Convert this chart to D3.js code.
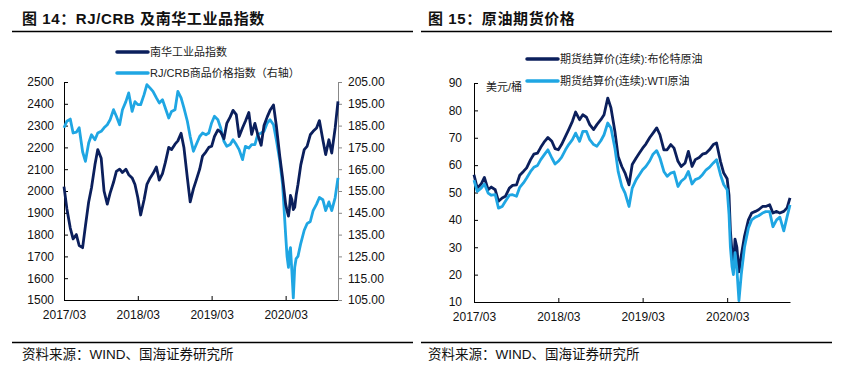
<!DOCTYPE html>
<html><head><meta charset="utf-8">
<script src="https://cdn.jsdelivr.net/npm/d3@7"></script>
<style>
body{margin:0;background:#fff;}
svg{display:block;}
text{font-family:"Liberation Sans",Arial,"Noto Sans CJK SC",sans-serif;}
.cjk{font-family:"Liberation Sans","Noto Sans CJK SC",sans-serif;}
</style></head><body>
<svg id="c" width="844" height="371"></svg>
<script>
// ---------- Left chart data ----------
const leftDates = [
"2017-03-01","2017-03-15","2017-04-01","2017-04-15","2017-05-01","2017-05-15","2017-06-01","2017-06-15","2017-07-01","2017-07-15",
"2017-08-01","2017-08-15","2017-09-01","2017-09-15","2017-10-01","2017-10-15","2017-11-01","2017-11-15","2017-12-01","2017-12-15",
"2018-01-01","2018-01-15","2018-02-01","2018-02-15","2018-03-01","2018-03-15","2018-04-01","2018-04-15","2018-05-01","2018-05-15",
"2018-06-01","2018-06-15","2018-07-01","2018-07-15","2018-08-01","2018-08-15","2018-09-01","2018-09-15","2018-10-01","2018-10-15",
"2018-11-01","2018-11-15","2018-12-01","2018-12-15",
"2019-01-01","2019-01-15","2019-02-01","2019-02-15","2019-03-01","2019-03-15","2019-04-01","2019-04-15","2019-05-01","2019-05-15",
"2019-06-01","2019-06-15","2019-07-01","2019-07-15","2019-08-01","2019-08-15","2019-09-01","2019-09-15","2019-10-01","2019-10-15",
"2019-11-01","2019-11-15","2019-12-01","2019-12-15",
"2020-01-01","2020-01-15","2020-02-01","2020-02-15",
"2020-03-01","2020-03-08","2020-03-15","2020-03-20","2020-03-25","2020-04-01","2020-04-08","2020-04-15","2020-04-22","2020-05-01",
"2020-05-15","2020-06-01","2020-06-15","2020-07-01","2020-07-15","2020-08-01","2020-08-15","2020-09-01","2020-09-15","2020-10-01",
"2020-10-15","2020-11-01","2020-11-15"];
const nanhua = [
2020,1920,1830,1780,1800,1750,1740,1840,1950,2015,2120,2190,2150,2000,1940,1990,2040,2090,2100,2085,
2100,2075,2060,2030,1970,1890,1960,2030,2060,2080,2110,2050,2080,2130,2200,2190,2215,2230,2265,2200,2060,1950,2010,2050,
2100,2160,2180,2200,2205,2250,2280,2270,2240,2310,2340,2370,2350,2250,2290,2320,2360,2260,2310,2260,2210,2300,2340,2370,
2395,2300,2160,2060,
1940,1910,1885,1920,1980,1960,1915,1925,1980,2030,
2120,2190,2205,2258,2274,2289,2323,2235,2167,2235,2174,2289,2411];
const rjcrb = [
184,187,188,181.6,182,184,173,168.6,177,180.8,178.5,181.6,182.4,184,185.4,187.7,192.3,189.3,185.4,192.3,
196,200,191.5,196,194.6,194.6,199.2,203.8,202.2,200.7,197.7,195.4,196.9,193.1,188.5,191.5,192.3,200.7,197.7,193.1,187,180,173.2,176.3,
180,181.6,180.8,181.6,186.2,189.3,187.7,183.9,177.8,175.5,176.3,178.5,176.3,174,169.4,175.5,174.7,176.3,176.3,180.8,181.6,182.4,186.2,187.7,
185.4,178.5,169,158,
135,125,120,127,129,118,106,120,124,125,
131,137,140,141,146,149,152,151,146,150,146,152,161];
const leftTicks = [1500,1600,1700,1800,1900,2000,2100,2200,2300,2400,2500];
const rightTicks = [105,115,125,135,145,155,165,175,185,195,205];

// ---------- Right chart data ----------
const oilDates = [
"2017-03-01","2017-03-15","2017-04-01","2017-04-15","2017-05-01","2017-05-15","2017-06-01","2017-06-15","2017-07-01","2017-07-15",
"2017-08-01","2017-08-15","2017-09-01","2017-09-15","2017-10-01","2017-10-15","2017-11-01","2017-11-15","2017-12-01","2017-12-15",
"2018-01-01","2018-01-15","2018-02-01","2018-02-15","2018-03-01","2018-03-15","2018-04-01","2018-04-15","2018-05-01","2018-05-15",
"2018-06-01","2018-06-15","2018-07-01","2018-07-15","2018-08-01","2018-08-15","2018-09-01","2018-09-15","2018-10-01","2018-10-15",
"2018-11-01","2018-11-15","2018-12-01","2018-12-15",
"2019-01-01","2019-01-15","2019-02-01","2019-02-15","2019-03-01","2019-03-15","2019-04-01","2019-04-15","2019-05-01","2019-05-15",
"2019-06-01","2019-06-15","2019-07-01","2019-07-15","2019-08-01","2019-08-15","2019-09-01","2019-09-15","2019-10-01","2019-10-15",
"2019-11-01","2019-11-15","2019-12-01","2019-12-15",
"2020-01-01","2020-01-15","2020-02-01","2020-02-15","2020-03-01",
"2020-03-09","2020-03-15","2020-03-22","2020-03-28","2020-04-04","2020-04-12","2020-04-21","2020-05-01","2020-05-15",
"2020-06-01","2020-06-15","2020-07-01","2020-07-15","2020-08-01","2020-08-15","2020-09-01","2020-09-15","2020-10-01","2020-10-15",
"2020-11-01","2020-11-15","2020-11-28"];
const brent = [
56.5,51.6,53.1,55.5,51,52,51,46.8,48,48.6,51.6,52.6,52.8,56.3,57.7,59,62,64,64.4,66.5,
68.7,70.1,68.7,66,65.6,67.5,70.5,73,76,79.4,76.6,78.4,77.5,74.8,73,74.8,76.6,78.4,84.5,80.9,72.3,63.2,59.5,57.1,
52.8,60.2,62.6,64.4,66.2,67.7,70.1,71.7,73.6,71.1,65.6,65.6,67.5,66.2,61.4,59.5,60.8,65,59.5,62,62.8,64,64.4,65.6,
67.5,68.1,61.4,57.1,55,
49,36,28,22,33,30,21,27,34,
40,42.5,43.1,43.7,44.9,44.9,45.5,42.5,43.1,42.5,43.1,44.3,48];
const wti = [
54.5,50.4,51.6,53.1,49.8,49,49.2,44.3,44.9,46.8,49,49.2,48.6,51.9,53.5,55.3,57.7,59.2,59.9,62,
64,65.6,62.6,60.4,61.4,62.8,65.6,67.5,69.3,71.7,68.7,72.3,72.3,69.3,67.5,66.9,68.9,71.1,75.4,73.6,66.2,57.7,52.2,49.8,
44.9,51.6,54.7,56.5,58.3,59.5,61.6,64,65.3,62.6,57.7,55.9,57.1,57.5,52.2,54.1,55.3,57.7,53.1,54.7,55.3,56.5,58.3,59.2,
60.8,62,56.5,52.9,51,
42,30,23,20,28,22,10.5,20,30,
37,40,41,41.5,42.5,43,43,37.5,40,41,36,41,45.5];
const oilTicks = [10,20,30,40,50,60,70,80,90];

const xTickDates = ["2017-03-01","2018-03-01","2019-03-01","2020-03-01"];
const xTickLabels = ["2017/03","2018/03","2019/03","2020/03"];

const DARK = "#0b1f5c", LIGHT = "#1fa6e3";
const parse = d3.timeParse("%Y-%m-%d");
const svg = d3.select("#c");
const fmtX = d => xTickLabels[xTickDates.findIndex(s => +parse(s) === +d)];

// ---------- headers / footers ----------
function frame(x0, x1, title, tx) {
  svg.append("text").attr("x", tx).attr("y", 24).attr("class","cjk")
    .attr("font-size", 15).attr("font-weight", "bold").attr("letter-spacing", 0.6)
    .attr("fill", "#111").text(title);
  svg.append("line").attr("x1", x0).attr("x2", x1).attr("y1", 31.5).attr("y2", 31.5)
    .attr("stroke", "#000").attr("stroke-width", 1.3);
  svg.append("line").attr("x1", x0).attr("x2", x1).attr("y1", 342.5).attr("y2", 342.5)
    .attr("stroke", "#000").attr("stroke-width", 1.3);
  svg.append("text").attr("x", tx).attr("y", 359).attr("class","cjk")
    .attr("font-size", 13.5).attr("fill", "#111").text("资料来源：WIND、国海证券研究所");
}
frame(12, 413, "图 14：RJ/CRB 及南华工业品指数", 22);
frame(421, 832, "图 15：原油期货价格", 428);

function styleAxis(g, color) {
  g.selectAll("path,line").attr("stroke", color).attr("stroke-width", 1);
  g.selectAll("text").attr("font-size", 12).attr("fill", "#111")
    .attr("font-family", "'Liberation Sans',Arial,sans-serif");
}
function legendItem(x, y, color, label) {
  svg.append("line").attr("x1", x).attr("x2", x + 31).attr("y1", y).attr("y2", y)
    .attr("stroke", color).attr("stroke-width", 3.5).attr("stroke-linecap", "round");
  svg.append("text").attr("x", x + 33).attr("y", y).attr("dy", "0.35em").attr("class","cjk")
    .attr("font-size", 11).attr("fill", "#222").text(label);
}

// ---------- Left chart ----------
{
  const ld = leftDates.map(parse);
  const x = d3.scaleTime().domain([parse("2017-03-01"), parse("2020-11-15")]).range([64, 338]);
  const yL = d3.scaleLinear().domain([1500, 2500]).range([300, 82]);
  const yR = d3.scaleLinear().domain([105, 205]).range([300, 82]);

  const gx = svg.append("g").attr("transform", "translate(0,300)")
    .call(d3.axisBottom(x).tickValues(xTickDates.map(parse)).tickFormat(fmtX)
      .tickSizeInner(-4).tickSizeOuter(0).tickPadding(10));
  styleAxis(gx, "#000");
  const gl = svg.append("g").attr("transform", "translate(64,0)")
    .call(d3.axisLeft(yL).tickValues(leftTicks).tickFormat(d3.format("d"))
      .tickSizeInner(-4).tickSizeOuter(0).tickPadding(10));
  styleAxis(gl, "#000");
  const gr = svg.append("g").attr("transform", "translate(338,0)")
    .call(d3.axisRight(yR).tickValues(rightTicks).tickFormat(d3.format(".2f"))
      .tickSizeInner(4).tickSizeOuter(0).tickPadding(6));
  styleAxis(gr, "#888");

  svg.append("path").datum(rjcrb).attr("fill", "none").attr("stroke", LIGHT)
    .attr("stroke-width", 2.8).attr("stroke-linejoin", "round")
    .attr("d", d3.line().x((d, i) => x(ld[i])).y(d => yR(d)));
  svg.append("path").datum(nanhua).attr("fill", "none").attr("stroke", DARK)
    .attr("stroke-width", 2.8).attr("stroke-linejoin", "round")
    .attr("d", d3.line().x((d, i) => x(ld[i])).y(d => yL(d)));

  legendItem(117, 52, DARK, "南华工业品指数");
  legendItem(117, 73, LIGHT, "RJ/CRB商品价格指数（右轴）");
}

// ---------- Right chart ----------
{
  const od = oilDates.map(parse);
  const x = d3.scaleTime().domain([parse("2017-03-01"), parse("2020-11-28")]).range([474, 790]);
  const y = d3.scaleLinear().domain([10, 90]).range([302, 83]);

  const gx = svg.append("g").attr("transform", "translate(0,302)")
    .call(d3.axisBottom(x).tickValues(xTickDates.map(parse)).tickFormat(fmtX)
      .tickSizeInner(-4).tickSizeOuter(0).tickPadding(10));
  styleAxis(gx, "#000");
  const gy = svg.append("g").attr("transform", "translate(474,0)")
    .call(d3.axisLeft(y).tickValues(oilTicks).tickFormat(d3.format("d"))
      .tickSizeInner(-4).tickSizeOuter(0).tickPadding(12));
  styleAxis(gy, "#000");

  svg.append("path").datum(brent).attr("fill", "none").attr("stroke", DARK)
    .attr("stroke-width", 2.8).attr("stroke-linejoin", "round")
    .attr("d", d3.line().x((d, i) => x(od[i])).y(d => y(d)));
  svg.append("path").datum(wti).attr("fill", "none").attr("stroke", LIGHT)
    .attr("stroke-width", 2.8).attr("stroke-linejoin", "round")
    .attr("d", d3.line().x((d, i) => x(od[i])).y(d => y(d)));

  svg.append("text").attr("x", 486).attr("y", 87).attr("dy", "0.35em").attr("class","cjk")
    .attr("font-size", 11).attr("fill", "#222").text("美元/桶");
  legendItem(527, 59, DARK, "期货结算价(连续):布伦特原油");
  legendItem(527, 81, LIGHT, "期货结算价(连续):WTI原油");
}
</script>
</body></html>
